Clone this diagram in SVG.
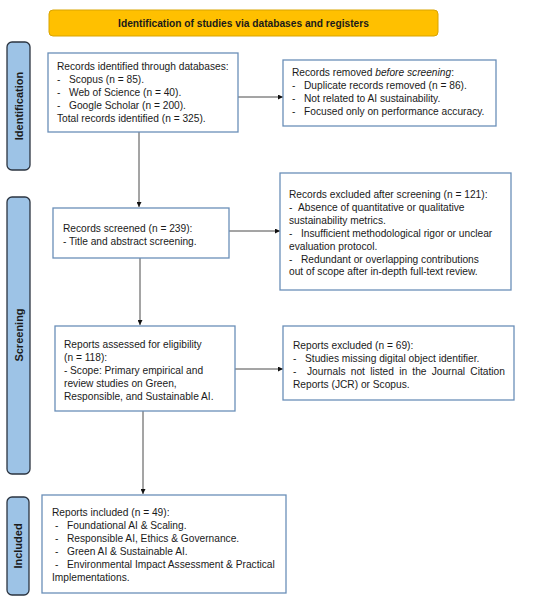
<svg xmlns="http://www.w3.org/2000/svg" width="550" height="604" viewBox="0 0 550 604">
<style>
text{font-family:"Liberation Sans",Arial,sans-serif;font-size:10.2px;fill:#1a1a1a}
.box{fill:#fff;stroke:#6a8fb8;stroke-width:1.3}
.side{fill:#9dc3e6;stroke:#2b3440;stroke-width:1.3}
.sidet{font-weight:bold;font-size:11px;text-anchor:middle}
.con{stroke:#4a4a4a;stroke-width:1;fill:none}
</style>
<defs>
<marker id="ah" viewBox="0 0 10 10" refX="10" refY="5" markerWidth="5" markerHeight="5" orient="auto" markerUnits="userSpaceOnUse">
<path d="M0,0L10,5L0,10z" fill="#111"/>
</marker>
</defs>
<rect width="550" height="604" fill="#fff"/>
<g id="banner">
<rect x="49" y="10" width="389" height="26" rx="4" fill="#ffc000" stroke="#d9a400" stroke-width="1"/>
<text x="243.5" y="26.5" text-anchor="middle" font-weight="bold">Identification of studies via databases and registers</text>
</g>
<g id="side-identification">
<rect class="side" x="7" y="42" width="23" height="128" rx="5"/>
<text class="sidet" transform="translate(22.5,106) rotate(-90)">Identification</text>
</g>
<g id="side-screening">
<rect class="side" x="7" y="197" width="23" height="277" rx="5"/>
<text class="sidet" transform="translate(22.5,335) rotate(-90)">Screening</text>
</g>
<g id="side-included">
<rect class="side" x="7" y="497" width="22" height="98" rx="5"/>
<text class="sidet" transform="translate(22,546) rotate(-90)">Included</text>
</g>
<g id="connectors">
<line class="con" x1="238" y1="97" x2="283" y2="97" marker-end="url(#ah)"/>
<line class="con" x1="139" y1="132" x2="139" y2="207" marker-end="url(#ah)"/>
<line class="con" x1="229" y1="231" x2="280" y2="231" marker-end="url(#ah)"/>
<line class="con" x1="140" y1="258" x2="140" y2="325" marker-end="url(#ah)"/>
<line class="con" x1="235" y1="369" x2="283" y2="369" marker-end="url(#ah)"/>
<line class="con" x1="143" y1="411" x2="143" y2="494" marker-end="url(#ah)"/>
</g>
<g id="records-identified">
<rect class="box" x="48" y="53" width="190" height="79"/>
<text x="57" y="70">Records identified through databases:</text>
<text x="57" y="83">-<tspan x="69">Scopus (n = 85).</tspan></text>
<text x="57" y="96">-<tspan x="69">Web of Science (n = 40).</tspan></text>
<text x="57" y="109">-<tspan x="69">Google Scholar (n = 200).</tspan></text>
<text x="57" y="122">Total records identified (n = 325).</text>
</g>
<g id="records-removed">
<rect class="box" x="283" y="60" width="213" height="66"/>
<text x="292" y="76">Records removed <tspan font-style="italic">before screening</tspan>:</text>
<text x="292" y="89">-<tspan x="304">Duplicate records removed (n = 86).</tspan></text>
<text x="292" y="102">-<tspan x="304">Not related to AI sustainability.</tspan></text>
<text x="292" y="115">-<tspan x="304">Focused only on performance accuracy.</tspan></text>
</g>
<g id="records-screened">
<rect class="box" x="53" y="208" width="176" height="50"/>
<text x="63" y="231.5">Records screened (n = 239):</text>
<text x="63" y="244.5">-<tspan x="69">Title and abstract screening.</tspan></text>
</g>
<g id="records-excluded">
<rect class="box" x="280" y="173" width="231" height="117"/>
<text x="289" y="197.5">Records excluded after screening (n = 121):</text>
<text x="289" y="210.5">-<tspan x="298">Absence of quantitative or qualitative</tspan></text>
<text x="289" y="223.5">sustainability metrics.</text>
<text x="289" y="236.5">-<tspan x="301">Insufficient methodological rigor or unclear</tspan></text>
<text x="289" y="249.5">evaluation protocol.</text>
<text x="289" y="262.5">-<tspan x="301">Redundant or overlapping contributions</tspan></text>
<text x="289" y="275">out of scope after in-depth full-text review.</text>
</g>
<g id="reports-assessed">
<rect class="box" x="55" y="326" width="180" height="85"/>
<text x="64" y="347.5">Reports assessed for eligibility</text>
<text x="64" y="360.5">(n = 118):</text>
<text x="64" y="373.5">-<tspan x="70">Scope: Primary empirical and</tspan></text>
<text x="64" y="386.5">review studies on Green,</text>
<text x="64" y="399.5">Responsible, and Sustainable AI.</text>
</g>
<g id="reports-excluded">
<rect class="box" x="283" y="326" width="231" height="74"/>
<text x="293" y="348.5">Reports excluded (n = 69):</text>
<text x="293" y="361.5">-<tspan x="305">Studies missing digital object identifier.</tspan></text>
<text x="293" y="374.5">-<tspan x="307" word-spacing="2.4">Journals not listed in the Journal Citation</tspan></text>
<text x="293" y="387.5">Reports (JCR) or Scopus.</text>
</g>
<g id="reports-included">
<rect class="box" x="42" y="495" width="244" height="98"/>
<text x="52" y="515.5">Reports included (n = 49):</text>
<text x="55" y="528.5">-<tspan x="67">Foundational AI &amp; Scaling.</tspan></text>
<text x="55" y="541.5">-<tspan x="67">Responsible AI, Ethics &amp; Governance.</tspan></text>
<text x="55" y="554.5">-<tspan x="67">Green AI &amp; Sustainable AI.</tspan></text>
<text x="55" y="567.5">-<tspan x="67">Environmental Impact Assessment &amp; Practical</tspan></text>
<text x="52" y="581">Implementations.</text>
</g>
</svg>
